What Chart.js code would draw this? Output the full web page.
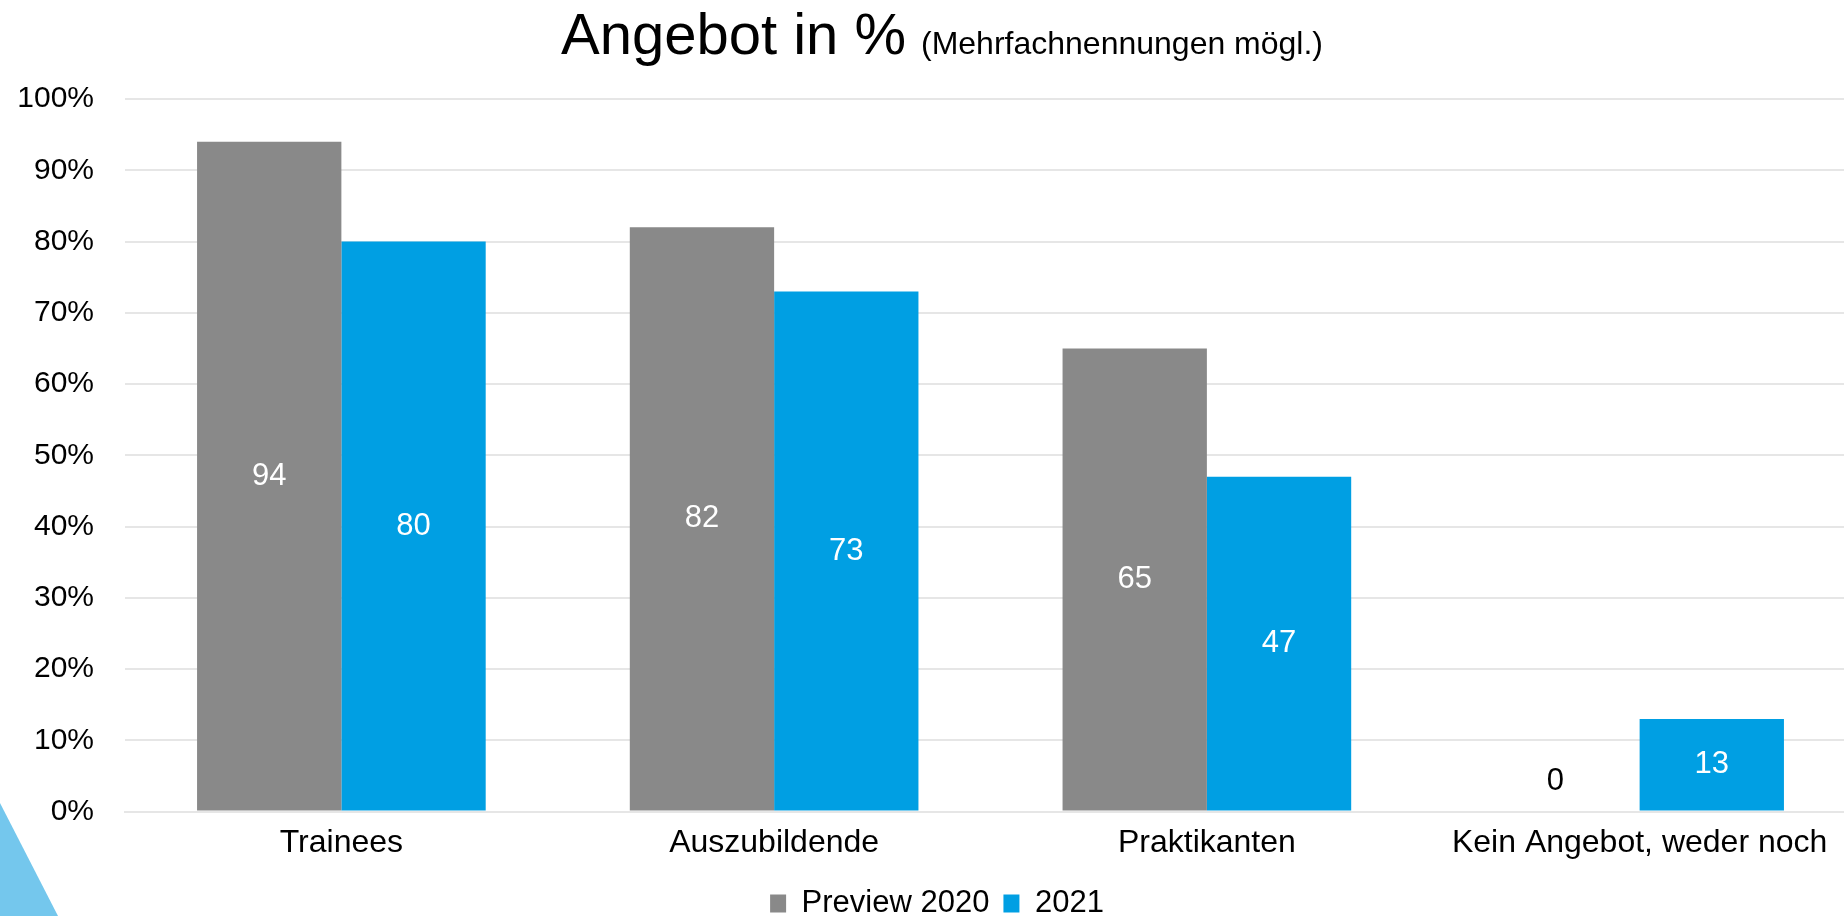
<!DOCTYPE html>
<html>
<head>
<meta charset="utf-8">
<script src="https://cdn.jsdelivr.net/npm/chart.js@4.4.1/dist/chart.umd.min.js"></script>
<style>
    html, body { margin:0; padding:0; background:#fff; overflow:hidden; }
    .wrap { position:relative; width:1856px; height:916px; }
    .deco { position:absolute; left:0; top:0; width:1856px; height:916px;
            background:#74C7ED; clip-path:polygon(0 803px, 58px 916px, 0 916px); }
    canvas { position:absolute; left:0; top:0; }
</style>
</head>
<body>
<div class="wrap">
    <div class="deco"></div>
    <canvas id="chart" width="1856" height="916"></canvas>
</div>
<script>
// Data
const categories = ['Trainees', 'Auszubildende', 'Praktikanten', 'Kein Angebot, weder noch'];
const preview2020 = [94, 82, 65, 0];
const year2021    = [80, 73, 47, 13];
const seriesNames = ['Preview 2020', '2021'];
const yTicks      = [0, 10, 20, 30, 40, 50, 60, 70, 80, 90, 100];
const titleMain   = 'Angebot in %';
const titleSub    = '(Mehrfachnennungen mögl.)';

const FONT = '"Liberation Sans", Arial, sans-serif';

// Title drawn with two font sizes on one line
const titlePlugin = {
    id: 'twoPartTitle',
    afterDraw(chart) {
        const ctx = chart.ctx;
        ctx.save();
        ctx.fillStyle = '#000';
        ctx.textBaseline = 'alphabetic';
        ctx.font = '58px ' + FONT;
        const w1 = ctx.measureText(titleMain).width;
        ctx.font = '32px ' + FONT;
        const w2 = ctx.measureText(titleSub).width;
        const gap = 15;
        let x = 942 - (w1 + gap + w2) / 2;
        ctx.font = '58px ' + FONT;
        ctx.fillText(titleMain, x, 54);
        ctx.font = '32px ' + FONT;
        ctx.fillText(titleSub, x + w1 + gap, 54);
        ctx.restore();
    }
};

// Value labels inside bars
const valueLabels = {
    id: 'valueLabels',
    afterDatasetsDraw(chart) {
        const ctx = chart.ctx;
        ctx.save();
        ctx.font = '31px ' + FONT;
        ctx.textAlign = 'center';
        ctx.textBaseline = 'middle';
        chart.data.datasets.forEach((ds, di) => {
            chart.getDatasetMeta(di).data.forEach((bar, i) => {
                const v = ds.data[i];
                if (v === 0) {
                    ctx.fillStyle = '#000';
                    ctx.fillText(String(v), bar.x - 12, bar.base - 30);
                } else {
                    ctx.fillStyle = '#fff';
                    ctx.fillText(String(v), bar.x, (bar.y + bar.base) / 2);
                }
            });
        });
        ctx.restore();
    }
};

new Chart(document.getElementById('chart'), {
    type: 'bar',
    data: {
        labels: categories,
        datasets: [
            { label: seriesNames[0], data: preview2020, backgroundColor: '#898989' },
            { label: seriesNames[1], data: year2021,    backgroundColor: '#009FE3' }
        ]
    },
    options: {
        responsive: false,
        animation: false,
        categoryPercentage: 0.667,
        barPercentage: 1,
        layout: { padding: { top: 99, left: 18, right: 0, bottom: -13 } },
        scales: {
            x: {
                grid: { display: false, drawTicks: false },
                border: { display: true, color: '#e6e6e6', width: 2 },
                ticks: { color: '#000', font: { size: 32, family: FONT }, padding: 12, maxRotation: 0 }
            },
            y: {
                min: 0, max: 100,
                afterBuildTicks: axis => { axis.ticks = yTicks.map(v => ({ value: v })); },
                afterFit: axis => { axis.width = 107; },
                grid: { color: '#e6e6e6', lineWidth: 2, drawTicks: false },
                border: { display: false },
                ticks: { color: '#000', font: { size: 30, family: FONT }, padding: 31,
                         callback: v => v + '%' }
            }
        },
        plugins: {
            legend: {
                position: 'bottom',
                labels: { color: '#000', font: { size: 31, family: FONT },
                          boxWidth: 16, boxHeight: 18, padding: 14 }
            },
            tooltip: { enabled: false }
        }
    },
    plugins: [titlePlugin, valueLabels]
});
</script>
</body>
</html>
